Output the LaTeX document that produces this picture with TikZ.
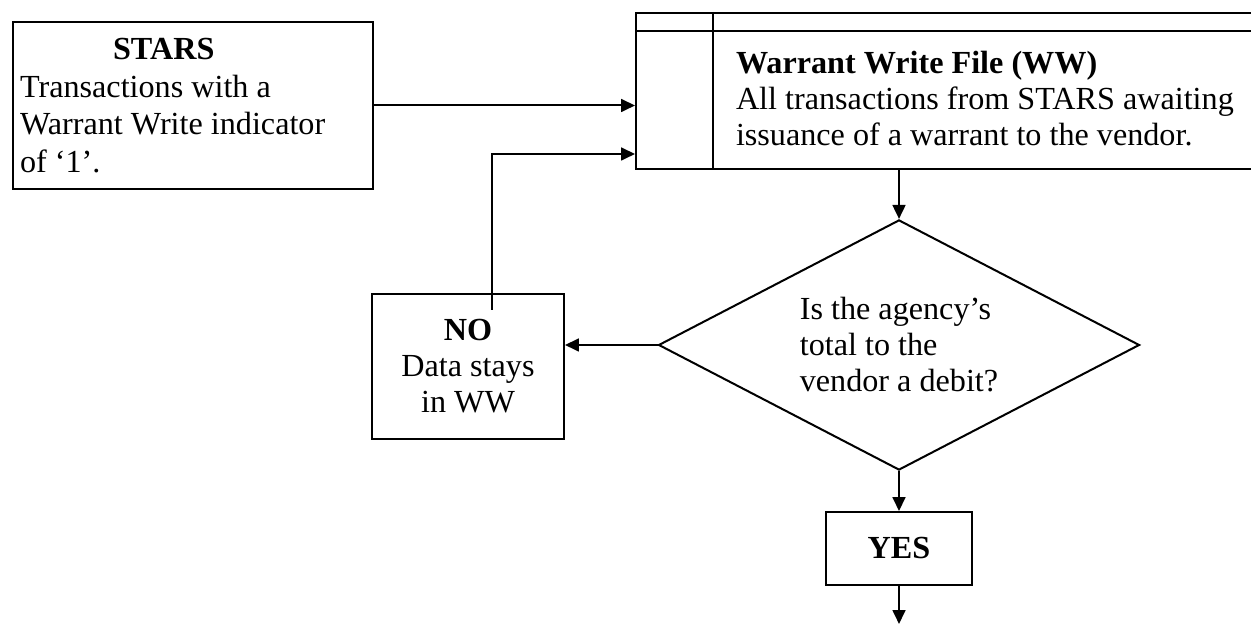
\documentclass[tikz,border=0pt]{standalone}
\usepackage{fontspec}
\setmainfont{Liberation Serif}
\usetikzlibrary{shapes.geometric,arrows.meta}
\begin{document}
\begin{tikzpicture}[x=0.373pt,y=-0.373pt,line width=0.75pt,
		>={Triangle[length=5.2pt,width=4.8pt]},
		font=\fontsize{12pt}{13.4pt}\selectfont,
		box/.style={draw,rectangle,inner sep=0pt}]
		\useasboundingbox (0,0) rectangle (1251,625);
		\clip (0,0) rectangle (1251,625);
		\node[box,minimum width=134.3pt,minimum height=62.3pt,text width=129pt,align=flush left,
			font=\fontsize{12pt}{14pt}\selectfont] (stars) at (193,105.5)
			{\hspace*{34.7pt}\textbf{STARS}\\Transactions with a\\Warrant Write indicator\\of ‘1’.};
		\node[box,anchor=north west,minimum width=235pt,minimum height=58.2pt] (ww) at (635,12) {};
		\coordinate (wwhead) at (0,31);
		\coordinate (wwbar) at (713,0);
		\draw (ww.north west |- wwhead) -- (ww.north east |- wwhead);
		\draw (ww.north -| wwbar) -- (ww.south -| wwbar);
		\node[anchor=north west,inner sep=0pt,align=flush left] (wwtext) at (735,50)
			{\textbf{Warrant Write File (WW)}\\All transactions from STARS awaiting\\issuance of a warrant to the vendor.};
		\node[draw,diamond,minimum width=179.4pt,minimum height=93.3pt,inner sep=0pt,aspect=1.92,align=flush left] (debit) at (899,345)
			{Is the agency’s\\total to the\\vendor a debit?};
		\node[box,minimum width=71.6pt,minimum height=54.1pt,align=center] (no) at (468,366.5)
			{\textbf{NO}\\Data stays\\in WW};
		\node[box,minimum width=54.1pt,minimum height=27.2pt] (yes) at (899,548.5) {\textbf{YES}};
		\coordinate (noup) at (492,310);
		\coordinate (wwin) at (635,154);
		\coordinate (out) at (899,624);
		\draw[->] (stars.east) -- (stars.east -| ww.west);
		\draw[->] (noup) |- (wwin);
		\draw[->] (debit.north |- ww.south) -- (debit.north);
		\draw[->] (debit.west) -- (debit.west -| no.east);
		\draw[->] (debit.south) -- (yes.north);
		\draw[->] (yes.south) -- (out);
\end{tikzpicture}
\end{document}
